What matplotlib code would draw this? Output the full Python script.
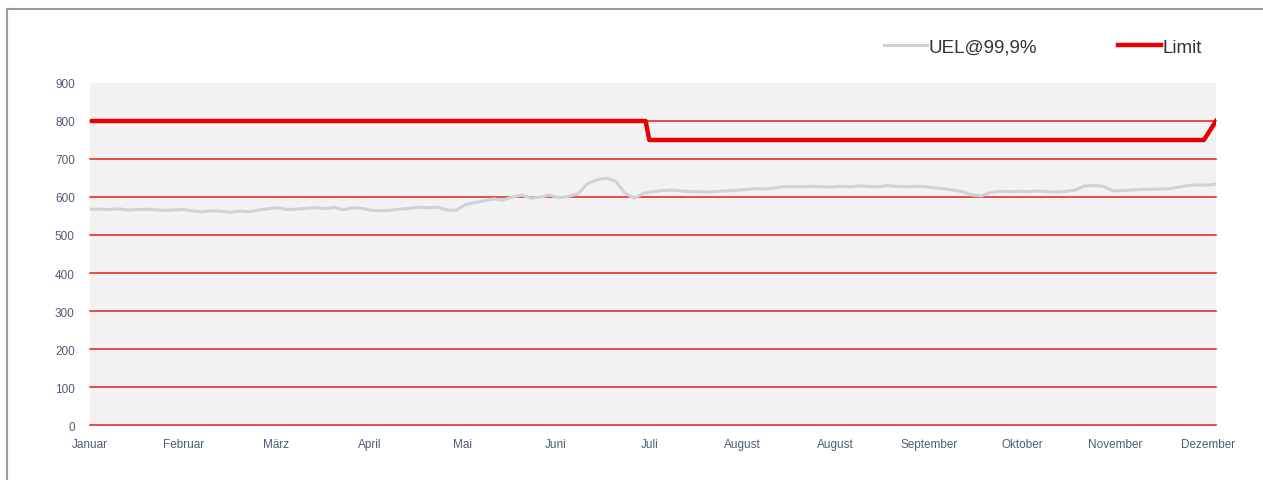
import matplotlib
matplotlib.use("Agg")
import matplotlib.pyplot as plt
from matplotlib.lines import Line2D
import numpy as np

plt.rcParams['font.family'] = ['Liberation Sans', 'DejaVu Sans']

# Monatsbeschriftungen (so wie im Original, August doppelt)
months = ["Januar", "Februar", "März", "April", "Mai", "Juni", "Juli",
          "August", "August", "September", "Oktober", "November", "Dezember"]

# UEL@99,9% - ca. 10 Werte pro Monat
uel = [568, 568, 567, 569, 566, 567, 568, 566, 565, 566,
       567, 563, 561, 564, 562, 560, 563, 561, 566, 569,
       572, 567, 568, 570, 572, 569, 573, 566, 572, 570,
       565, 564, 565, 568, 570, 573, 572, 573, 566, 565,
       580, 585, 590, 595, 592, 600, 605, 597, 600, 605,
       598, 602, 608, 635, 645, 650, 642, 610, 597, 610,
       614, 617, 618, 616, 614, 614, 613, 615, 616, 618,
       620, 622, 621, 624, 628, 627, 627, 628, 627, 626,
       628, 627, 629, 628, 627, 630, 628, 627, 628, 627,
       624, 622, 618, 614, 605, 603, 612, 615, 614, 615,
       614, 616, 614, 613, 615, 618, 629, 630, 628, 616,
       617, 618, 620, 620, 621, 622, 626, 630, 632, 631,
       634]

# Limit (Stufe Ende Juni, Anstieg am Jahresende)
limit_x = [0, 5.96, 6.0, 11.95, 12.08]
limit_y = [800, 800, 750, 750, 800]

yticks = [0, 100, 200, 300, 400, 500, 600, 700, 800, 900]

fig = plt.figure(figsize=(12.63, 4.81), dpi=100)
ax = fig.add_axes([0.0713, 0.1143, 0.8915, 0.7111])
ax.set_facecolor("#f2f2f2")

x_uel = np.linspace(0, 12.08, len(uel))

for y in yticks[:-1]:
    ax.axhline(y, color="#e41c1c", lw=1.1, zorder=1, clip_on=False)

ax.plot(x_uel, uel, color="#cbd3d9", lw=2.2, label="UEL@99,9%", zorder=3)
ax.plot(limit_x, limit_y, color="#e60000", lw=3.2, label="Limit", zorder=4)

ax.set_xlim(0, 12.08)
ax.set_ylim(0, 900)
ax.set_yticks(yticks)
ax.set_xticks(range(len(months)))
ax.set_xticklabels(months)
ax.tick_params(axis="both", length=0, labelsize=8.5, labelcolor="#4d5d75")
ax.tick_params(axis="y", pad=11)
ax.tick_params(axis="x", pad=9)
for s in ax.spines.values():
    s.set_visible(False)

ax.legend(loc="lower left", bbox_to_anchor=(0.69, 1.03), ncol=2,
          frameon=False, fontsize=13.5, handlelength=2.3, handletextpad=0.1,
          columnspacing=4.3, labelcolor="#333333")

# Rahmen links und oben
fig.add_artist(Line2D([7 / 1263, 7 / 1263], [0, 1 - 10 / 481],
                      color="#9a9a9a", lw=1.5, transform=fig.transFigure))
fig.add_artist(Line2D([7 / 1263, 1], [1 - 10 / 481, 1 - 10 / 481],
                      color="#9a9a9a", lw=1.5, transform=fig.transFigure))

fig.savefig("out.png", dpi=100)
